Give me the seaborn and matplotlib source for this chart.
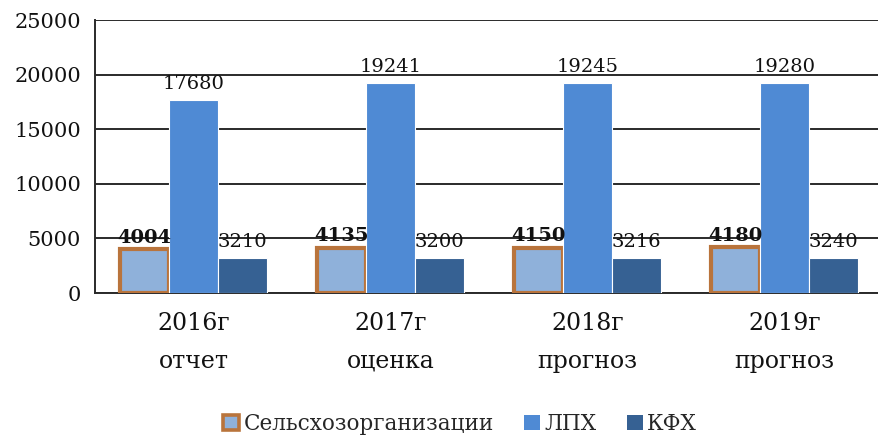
import matplotlib
matplotlib.use("Agg")
import matplotlib.pyplot as plt
from matplotlib.patches import Patch
import pandas as pd
import seaborn as sns

# Categories and series values
years = ["2016г\nотчет", "2017г\nоценка", "2018г\nпрогноз", "2019г\nпрогноз"]
series_names = ["Сельсхозорганизации", "ЛПХ", "КФХ"]
selkhoz = [4004, 4135, 4150, 4180]
lph = [17680, 19241, 19245, 19280]
kfh = [3210, 3200, 3216, 3240]
y_ticks = [0, 5000, 10000, 15000, 20000, 25000]

colors = {"Сельсхозорганизации": "#8fb1da", "ЛПХ": "#4f8ad4", "КФХ": "#366193"}
edge_orange = "#b9743c"

df = pd.DataFrame({
    "year": years * 3,
    "series": [series_names[0]] * 4 + [series_names[1]] * 4 + [series_names[2]] * 4,
    "value": selkhoz + lph + kfh,
})

sns.set_theme(style="white")
plt.rcParams["font.family"] = ["DejaVu Serif"]

fig = plt.figure(figsize=(8.79, 4.37), dpi=100)
ax = fig.add_axes([0.108, 0.3295, 0.8966, 0.6245])

sns.barplot(data=df, x="year", y="value", hue="series", hue_order=series_names,
            palette=colors, width=0.75, dodge=True, saturation=1, ax=ax,
            legend=False, errorbar=None)

# Styling of bars per series
for i, cont in enumerate(ax.containers):
    for p in cont:
        if i == 0:
            p.set_edgecolor(edge_orange)
            p.set_linewidth(3.0)
        else:
            p.set_edgecolor("white")
            p.set_linewidth(0.8)
        p.set_zorder(3)

# Value labels
for i, (cont, vals) in enumerate(zip(ax.containers, [selkhoz, lph, kfh])):
    ax.bar_label(cont, labels=[str(v) for v in vals],
                 padding=2 if i == 0 else 5,
                 fontsize=14, color="#111111",
                 fontweight="bold" if i == 0 else "normal", zorder=5)

ax.set_xlim(-0.5, 3.5)
ax.set_ylim(0, 25000)
ax.set_yticks(y_ticks)
ax.set_yticklabels([str(t) for t in y_ticks])
ax.set_xlabel("")
ax.set_ylabel("")
ax.yaxis.grid(True, color="#2a2a2a", linewidth=1.4)
ax.xaxis.grid(False)
ax.set_axisbelow(True)

for s in ["top", "right"]:
    ax.spines[s].set_visible(False)
ax.spines["left"].set_color("#2a2a2a")
ax.spines["left"].set_linewidth(1.4)
ax.spines["bottom"].set_color("#2a2a2a")
ax.spines["bottom"].set_linewidth(1.4)

ax.tick_params(axis="y", labelsize=15, pad=10, length=0, colors="#111111")
ax.tick_params(axis="x", labelsize=17, pad=14, length=0, colors="#111111")
for lbl in ax.get_xticklabels():
    lbl.set_linespacing(1.8)

handles = [
    Patch(facecolor=colors[series_names[0]], edgecolor=edge_orange, linewidth=2.6),
    Patch(facecolor=colors[series_names[1]], edgecolor="none"),
    Patch(facecolor=colors[series_names[2]], edgecolor="none"),
]
fig.legend(handles, series_names, loc="center", bbox_to_anchor=(460 / 879, 1 - 424 / 437),
           ncol=3, frameon=False, fontsize=15.5, handlelength=0.75, handleheight=0.75,
           handletextpad=0.2, columnspacing=1.4)

fig.savefig("out.png", dpi=100, facecolor="white")
